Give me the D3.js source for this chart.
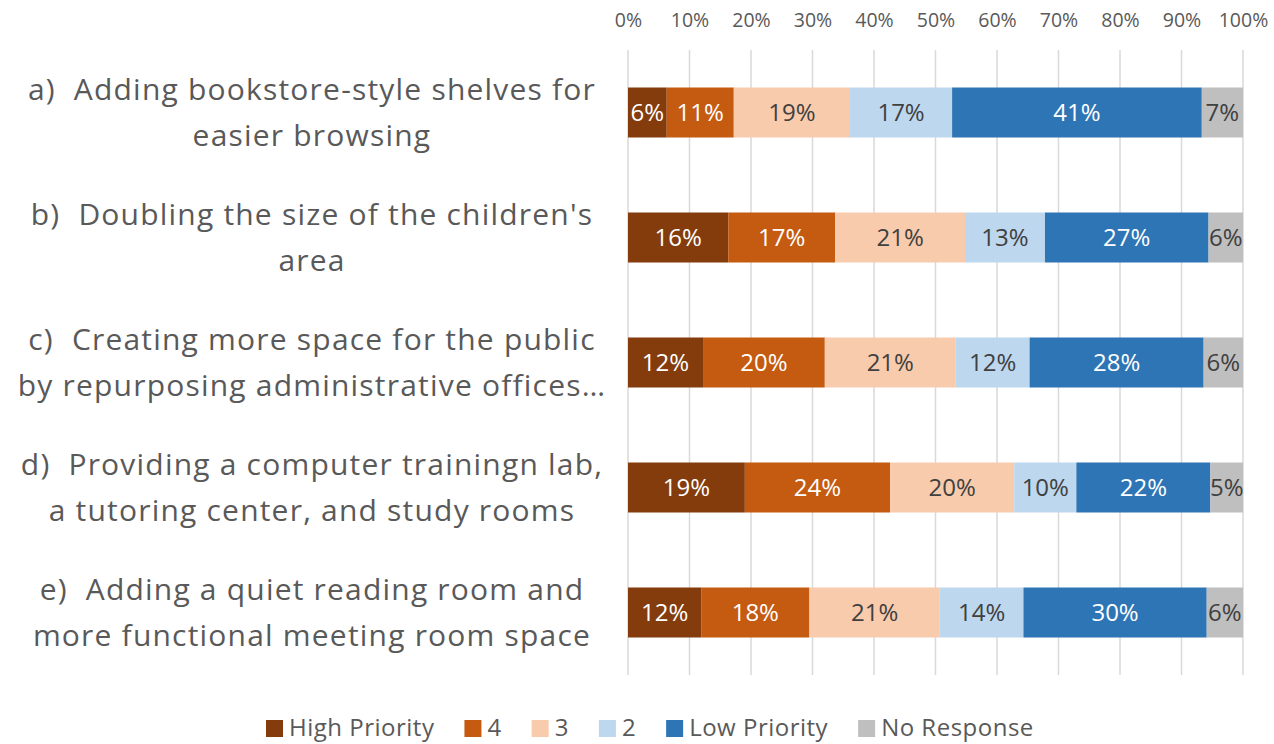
<!DOCTYPE html>
<html><head><meta charset="utf-8">
<script src="https://cdn.jsdelivr.net/npm/d3@7"></script>
<style>body{margin:0;background:#fff}svg{display:block;font-family:"Open Sans",sans-serif}</style>
</head><body><svg id="c" width="1274" height="744"></svg>
<script>
const categories = [
  ["a)  Adding bookstore-style shelves for", "easier browsing"],
  ["b)  Doubling the size of the children's", "area"],
  ["c)  Creating more space for the public", "by repurposing administrative offices…"],
  ["d)  Providing a computer trainingn lab,", "a tutoring center, and study rooms"],
  ["e)  Adding a quiet reading room and", "more functional meeting room space"]
];
const seriesNames = ["High Priority", "4", "3", "2", "Low Priority", "No Response"];
const highPriority = [6.3, 16.3, 12.2, 19.0, 11.9];
const four         = [10.9, 17.4, 19.8, 23.6, 17.6];
const three        = [18.9, 21.1, 21.3, 20.2, 21.2];
const two          = [16.6, 13.0, 12.0, 10.1, 13.6];
const lowPriority  = [40.6, 26.6, 28.3, 21.8, 29.8];
const noResponse   = [6.7, 5.6, 6.4, 5.3, 5.9];
const tickValues = [0,10,20,30,40,50,60,70,80,90,100];

const colors = ["#843C0C", "#C55A11", "#F8CBAD", "#BDD7EE", "#2E75B6", "#BFBFBF"];
const labelColors = ["#ffffff", "#ffffff", "#404040", "#404040", "#ffffff", "#404040"];
const seriesValues = [highPriority, four, three, two, lowPriority, noResponse];

const svg = d3.select("#c");
const x = d3.scaleLinear().domain([0, 100]).range([628, 1243]);
const y = d3.scaleBand().domain(d3.range(categories.length)).range([50, 675]).paddingInner(0.6).paddingOuter(0.3);

// gridlines
svg.append("g").selectAll("line").data(tickValues).join("line")
  .attr("x1", d => x(d)).attr("x2", d => x(d)).attr("y1", 50).attr("y2", 675)
  .attr("stroke", "#D9D9D9").attr("stroke-width", 1.5);

// top axis
const ax = svg.append("g").attr("transform", "translate(0,27)")
  .call(d3.axisTop(x).tickValues(tickValues).tickFormat(d => d + "%").tickSize(0).tickPadding(0));
ax.select(".domain").remove();
ax.selectAll("text").attr("font-family", "Open Sans").attr("font-size", 19.5).attr("fill", "#595959").attr("dy", 0);

// stacked data
const rows = categories.map((c, i) => {
  const o = {i};
  seriesNames.forEach((s, k) => o[s] = seriesValues[k][i]);
  return o;
});
const stacked = d3.stack().keys(seriesNames)(rows);

stacked.forEach((layer, k) => {
  const g = svg.append("g");
  g.selectAll("rect").data(layer).join("rect")
    .attr("x", d => x(d[0])).attr("width", d => x(d[1]) - x(d[0]))
    .attr("y", d => y(d.data.i)).attr("height", y.bandwidth())
    .attr("fill", colors[k]);
  g.selectAll("text").data(layer).join("text")
    .attr("x", d => (x(d[0]) + x(d[1])) / 2)
    .attr("y", d => y(d.data.i) + y.bandwidth() / 2)
    .attr("dy", "0.36em").attr("text-anchor", "middle")
    .attr("font-size", 24).attr("fill", labelColors[k])
    .text(d => Math.round(d[1] - d[0]) + "%");
});

// category labels
const cl = svg.append("g");
categories.forEach((lines, i) => {
  const cy = y(i) + y.bandwidth() / 2;
  const t = cl.append("text").attr("text-anchor", "middle").attr("font-size", 30)
    .attr("letter-spacing", 1.2).attr("fill", "#595959");
  lines.forEach((ln, j) => {
    t.append("tspan").attr("x", 312).attr("y", cy + (j - (lines.length - 1) / 2) * 45.5).attr("dy", "0.35em")
      .attr("xml:space", "preserve").style("white-space", "pre").text(ln);
  });
});

// legend
const lg = svg.append("g");
let lx = 266;
seriesNames.forEach((s, k) => {
  lg.append("rect").attr("x", lx).attr("y", 720).attr("width", 17).attr("height", 17).attr("fill", colors[k]);
  const t = lg.append("text").attr("x", lx + 23).attr("y", 736)
    .attr("font-size", 24).attr("letter-spacing", 0.5).attr("fill", "#595959").text(s);
  lx += 23 + t.node().getComputedTextLength() + 30;
});
</script></body></html>
